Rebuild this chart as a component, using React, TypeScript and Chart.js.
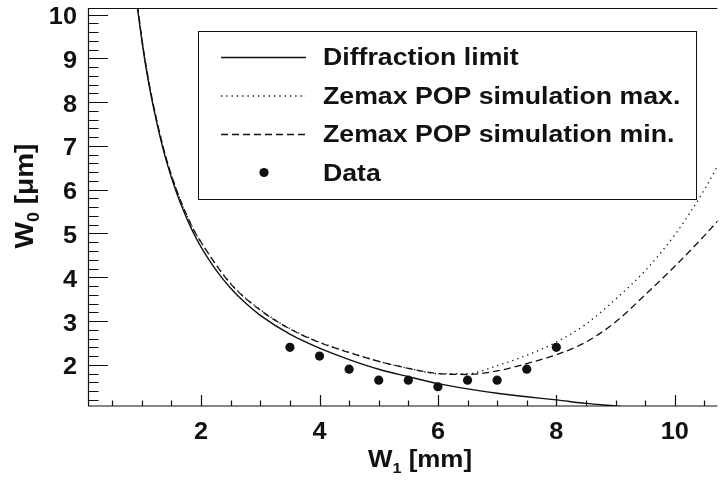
import { useEffect, useRef } from "react";
import { Chart, registerables } from "chart.js";

Chart.register(...registerables);

// ---- data ----
const diffX = [0.9, 0.94, 1.0, 1.05, 1.12, 1.2, 1.3, 1.4, 1.5, 1.6, 1.7, 1.85, 2.0, 2.25, 2.5, 2.75, 3.0, 3.5, 4.0, 4.5, 5.0, 5.5, 6.0, 6.5, 7.0, 7.5, 8.0, 8.5, 9.0, 9.3];
const diffY = [10.4, 10.0, 9.4, 8.95, 8.4, 7.85, 7.25, 6.72, 6.27, 5.88, 5.53, 5.07, 4.69, 4.17, 3.75, 3.41, 3.13, 2.7, 2.38, 2.12, 1.9, 1.73, 1.57, 1.45, 1.35, 1.27, 1.2, 1.12, 1.06, 1.02];

const maxX = [0.9, 0.94, 1.0, 1.05, 1.12, 1.2, 1.3, 1.4, 1.5, 1.6, 1.7, 1.85, 2.0, 2.5, 3.0, 3.5, 4.0, 4.5, 5.0, 5.5, 6.0, 6.5, 7.0, 7.5, 8.0, 8.5, 9.0, 9.5, 10.0, 10.5, 10.9];
const maxY = [10.45, 10.05, 9.45, 9.0, 8.45, 7.9, 7.3, 6.77, 6.33, 5.94, 5.6, 5.15, 4.8, 3.86, 3.26, 2.83, 2.52, 2.29, 2.08, 1.92, 1.8, 1.8, 1.98, 2.22, 2.52, 2.93, 3.5, 4.15, 4.97, 6.0, 7.0];

const minX = [0.9, 0.94, 1.0, 1.05, 1.12, 1.2, 1.3, 1.4, 1.5, 1.6, 1.7, 1.85, 2.0, 2.5, 3.0, 3.5, 4.0, 4.5, 5.0, 5.5, 6.0, 6.5, 7.0, 7.5, 8.0, 8.5, 9.0, 9.5, 10.0, 10.5, 10.9];
const minY = [10.45, 10.05, 9.45, 9.0, 8.45, 7.9, 7.3, 6.77, 6.33, 5.94, 5.6, 5.15, 4.8, 3.85, 3.25, 2.82, 2.51, 2.28, 2.08, 1.92, 1.8, 1.78, 1.86, 2.03, 2.23, 2.52, 2.98, 3.6, 4.25, 4.95, 5.55];

const dataX = [3.5, 4.0, 4.5, 5.0, 5.5, 6.0, 6.5, 7.0, 7.5, 8.0];
const dataY = [2.4, 2.2, 1.9, 1.65, 1.65, 1.5, 1.65, 1.65, 1.9, 2.4];

const seriesLabels = ["Diffraction limit", "Zemax POP simulation max.", "Zemax POP simulation min.", "Data"];

const xTickLabels = [2, 4, 6, 8, 10];
const yTickLabels = [2, 3, 4, 5, 6, 7, 8, 9, 10];
const xRange = [0.09, 10.72];
const yRange = [1.06, 10.15];

const FONT = '"Liberation Sans", Arial, Helvetica, sans-serif';
const SX = 1.1; // horizontal widening of the lettering seen in the reference

const zip = (xs: number[], ys: number[]) => xs.map((x, i) => ({ x, y: ys[i] }));

function drawText(ctx: CanvasRenderingContext2D, text: string, x: number, y: number, sx: number, align: CanvasTextAlign) {
  ctx.save();
  ctx.translate(x, y);
  ctx.scale(sx, 1);
  ctx.textAlign = align;
  ctx.fillText(text, 0, 0);
  ctx.restore();
}

const decor = {
  id: "decor",
  afterDatasetsDraw(chart: any) {
    const { ctx, chartArea: a, scales } = chart;
    const xs = scales.x;
    const ys = scales.y;
    ctx.save();
    ctx.strokeStyle = "#111";
    ctx.lineWidth = 1.2;
    // frame (left, bottom, top)
    ctx.beginPath();
    ctx.moveTo(a.left + 0.5, a.top);
    ctx.lineTo(a.left + 0.5, a.bottom);
    ctx.lineTo(a.right, a.bottom);
    ctx.moveTo(a.left, a.top + 0.5);
    ctx.lineTo(a.right, a.top + 0.5);
    ctx.stroke();

    // x ticks (inward)
    ctx.beginPath();
    for (let i = 1; i <= 21; i++) {
      const v = i * 0.5;
      const px = Math.round(xs.getPixelForValue(v)) + 0.5;
      if (px < a.left || px > a.right) continue;
      const major = i % 4 === 0;
      const len = major ? 11 : 5.5;
      ctx.moveTo(px, a.bottom);
      ctx.lineTo(px, a.bottom - len);
    }
    // y ticks (inward)
    for (let i = 6; i <= 50; i++) {
      const v = i * 0.2;
      const py = Math.round(ys.getPixelForValue(v)) + 0.5;
      if (py < a.top || py > a.bottom) continue;
      const major = i % 5 === 0;
      const len = major ? 20 : 10.5;
      ctx.moveTo(a.left, py);
      ctx.lineTo(a.left + len, py);
    }
    ctx.stroke();

    // tick labels (values from the scales' ticks)
    ctx.fillStyle = "#111";
    ctx.textBaseline = "alphabetic";
    ctx.font = `bold 23px ${FONT}`;
    for (const t of xs.ticks) {
      const px = xs.getPixelForValue(t.value);
      drawText(ctx, String(t.value), px, 439, SX, "center");
    }
    for (const t of ys.ticks) {
      const py = ys.getPixelForValue(t.value);
      drawText(ctx, String(t.value), 77, py + 9.5, SX, "right");
    }

    // axis titles
    const big = `bold 24px ${FONT}`;
    const small = `bold 15px ${FONT}`;
    // x title
    ctx.save();
    ctx.translate(368, 467);
    ctx.scale(1.08, 1);
    ctx.textAlign = "left";
    let tx = 0;
    ctx.font = big;
    ctx.fillText("W", tx, 0);
    tx += ctx.measureText("W").width;
    ctx.font = small;
    ctx.fillText("1", tx, 6);
    tx += ctx.measureText("1").width;
    ctx.font = big;
    ctx.fillText(" [mm]", tx, 0);
    ctx.restore();

    // y title (rotated)
    ctx.save();
    const bigY = `bold 25px ${FONT}`;
    const smallY = `bold 16px ${FONT}`;
    ctx.font = bigY;
    const wW = ctx.measureText("W").width;
    const wR = ctx.measureText(" [\u03bcm]").width;
    ctx.font = smallY;
    const w0 = ctx.measureText("0").width;
    const sy = 1.12;
    const total = (wW + w0 + wR) * sy;
    const cy = 196;
    ctx.translate(33, cy + total / 2);
    ctx.rotate(-Math.PI / 2);
    ctx.scale(sy, 1);
    ctx.textAlign = "left";
    let lx = 0;
    ctx.font = bigY;
    ctx.fillText("W", lx, 0);
    lx += wW;
    ctx.font = smallY;
    ctx.fillText("0", lx, 6);
    lx += w0;
    ctx.font = bigY;
    ctx.fillText(" [\u03bcm]", lx, 0);
    ctx.restore();

    // legend
    const L = { x: 198, y: 31, w: 498, h: 168 };
    ctx.fillStyle = "#fff";
    ctx.fillRect(L.x, L.y, L.w, L.h);
    ctx.strokeStyle = "#111";
    ctx.lineWidth = 1;
    ctx.strokeRect(L.x + 0.5, L.y + 0.5, L.w, L.h);
    const rows = [57, 95.5, 134, 172.5];
    const ds = chart.data.datasets;
    ctx.font = `bold 23px ${FONT}`;
    ctx.textBaseline = "alphabetic";
    ctx.fillStyle = "#111";
    for (let i = 0; i < ds.length; i++) {
      const d = ds[i];
      const ry = rows[i];
      if (d.showLine) {
        ctx.save();
        ctx.strokeStyle = d.borderColor;
        ctx.lineWidth = d.borderWidth;
        ctx.setLineDash(d.borderDash || []);
        ctx.beginPath();
        ctx.moveTo(221, ry + 0.5);
        ctx.lineTo(306, ry + 0.5);
        ctx.stroke();
        ctx.restore();
      } else {
        ctx.beginPath();
        ctx.arc(264, ry, d.pointRadius, 0, Math.PI * 2);
        ctx.fill();
      }
      drawText(ctx, d.label, 323, ry + 8.3, 1.16, "left");
    }
    ctx.restore();
  },
};

export default function App() {
  const ref = useRef<HTMLCanvasElement>(null);
  useEffect(() => {
    document.body.style.margin = "0";
    const canvas = ref.current!;
    const lineCommon = {
      showLine: true,
      pointRadius: 0,
      pointHoverRadius: 0,
      borderColor: "#111",
      backgroundColor: "#111",
      cubicInterpolationMode: "monotone" as const,
      fill: false,
    };
    const chart = new Chart(canvas, {
      type: "scatter",
      data: {
        datasets: [
          { ...lineCommon, label: seriesLabels[0], data: zip(diffX, diffY), borderWidth: 1.4 },
          { ...lineCommon, label: seriesLabels[1], data: zip(maxX, maxY), borderWidth: 1.3, borderDash: [1.3, 4] },
          { ...lineCommon, label: seriesLabels[2], data: zip(minX, minY), borderWidth: 1.3, borderDash: [7, 4] },
          {
            label: seriesLabels[3],
            data: zip(dataX, dataY),
            showLine: false,
            pointRadius: 4.6,
            pointHoverRadius: 4.6,
            pointBorderWidth: 0,
            backgroundColor: "#111",
            borderColor: "#111",
          },
        ],
      },
      options: {
        responsive: false,
        animation: false,
        devicePixelRatio: 1,
        layout: { padding: { left: 0, right: 0, top: 8, bottom: 0 } },
        plugins: { legend: { display: false }, tooltip: { enabled: false } },
        events: [],
        scales: {
          x: {
            type: "linear",
            position: "bottom",
            min: xRange[0],
            max: xRange[1],
            grid: { display: false, drawTicks: false },
            border: { display: false },
            afterBuildTicks: (s: any) => {
              s.ticks = xTickLabels.map((v) => ({ value: v }));
            },
            afterFit: (s: any) => {
              s.height = 80;
            },
            ticks: { display: false },
          },
          y: {
            type: "linear",
            position: "left",
            min: yRange[0],
            max: yRange[1],
            grid: { display: false, drawTicks: false },
            border: { display: false },
            afterBuildTicks: (s: any) => {
              s.ticks = yTickLabels.map((v) => ({ value: v }));
            },
            afterFit: (s: any) => {
              s.width = 88;
            },
            ticks: { display: false },
          },
        },
      },
      plugins: [decor],
    });
    return () => chart.destroy();
  }, []);
  return (
    <div style={{ width: 722, height: 486, overflow: "hidden" }}>
      <canvas ref={ref} width={722} height={486} style={{ display: "block" }} />
    </div>
  );
}
